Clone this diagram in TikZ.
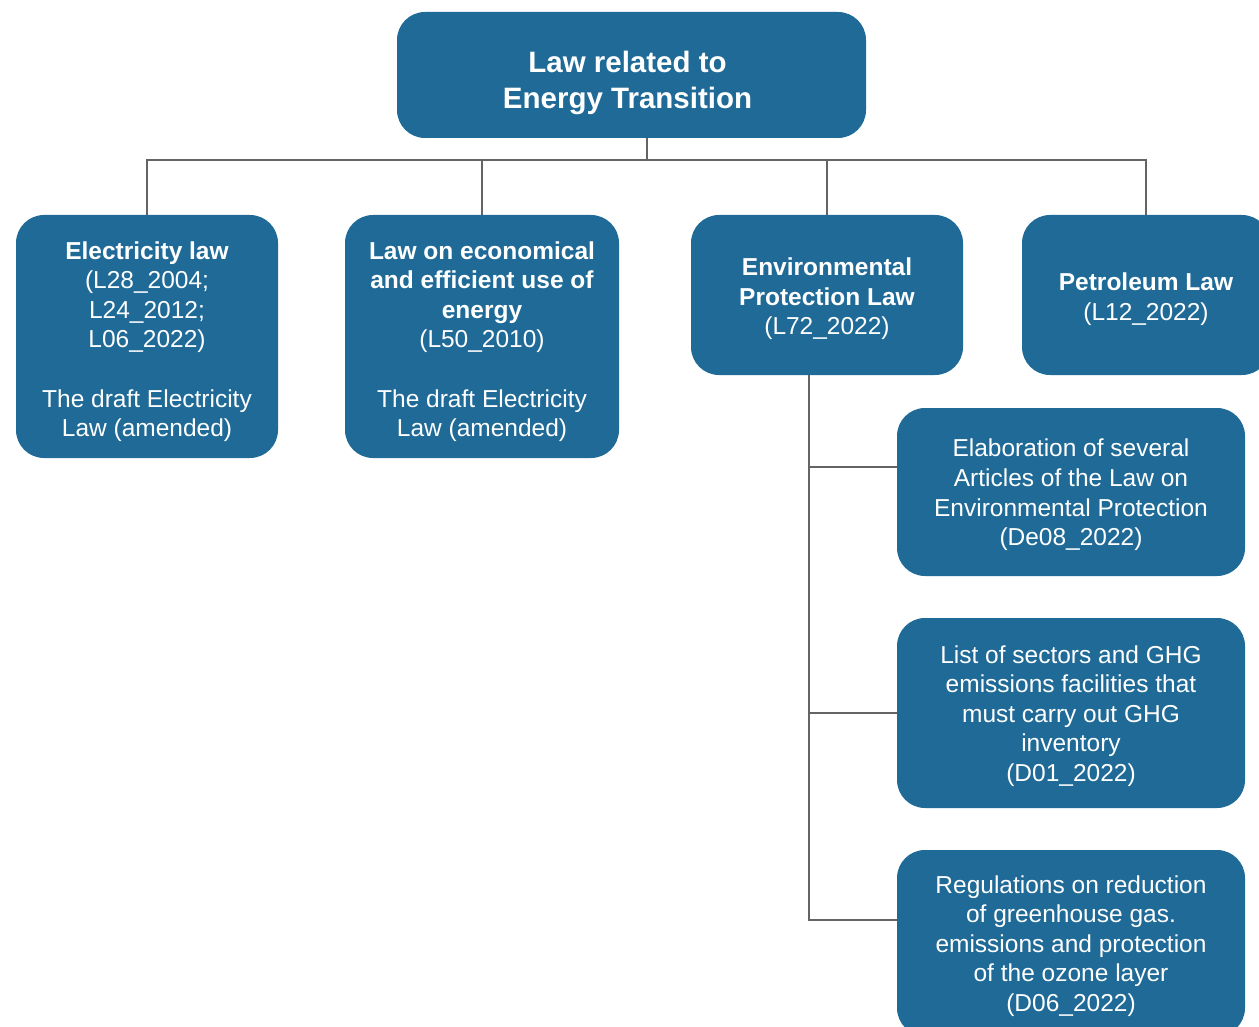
\documentclass[tikz,border=0pt]{standalone}
\usepackage{fontspec}
\setmainfont{Liberation Sans}
\definecolor{lawblue}{RGB}{31,106,150}
\definecolor{linkgray}{RGB}{100,100,100}
\begin{document}
\begin{tikzpicture}[x=1pt,y=-1pt,
  lawbox/.style={fill=lawblue, draw=none, rounded corners=28pt,
    inner sep=0pt, anchor=center},
  boxtext/.style={text=white, align=center, inner sep=0pt, anchor=center,
    font=\fontsize{24.5}{29.6}\selectfont},
  roottext/.style={boxtext, font=\bfseries\fontsize{29.5}{35.5}\selectfont},
  link/.style={draw=linkgray, line width=1.1pt}]
\useasboundingbox (0,0) rectangle (1259,1027);
\clip (0,0) rectangle (1259,1027);

% top level
\node[lawbox, minimum width=469pt, minimum height=126pt] (root) at (631.5,75) {};
\node[roottext] (roott) at ([xshift=-4pt,yshift=-8pt]root.center)
  {Law related to\\Energy Transition};

% laws
\node[lawbox, minimum width=262pt, minimum height=243pt] (elec) at (147,336.5) {};
\node[boxtext] (elect) at ([yshift=-5pt]elec.center)
  {\textbf{Electricity law}\\(L28\_2004;\\L24\_2012;\\L06\_2022)\\[29.6pt]The draft Electricity\\Law (amended)};
\node[lawbox, minimum width=274pt, minimum height=243pt] (econ) at (482,336.5) {};
\node[boxtext] (econt) at ([yshift=-5pt]econ.center)
  {\textbf{Law on economical}\\\textbf{and efficient use of}\\\textbf{energy}\\(L50\_2010)\\[29.6pt]The draft Electricity\\Law (amended)};
\node[lawbox, minimum width=272pt, minimum height=160pt] (env) at (827,295) {};
\node[boxtext] (envt) at ([yshift=-4pt]env.center)
  {\textbf{Environmental}\\\textbf{Protection Law}\\(L72\_2022)};
\node[lawbox, minimum width=248pt, minimum height=160pt] (pet) at (1146,295) {};
\node[boxtext] (pett) at ([yshift=-4pt]pet.center)
  {\textbf{Petroleum Law}\\(L12\_2022)};

% decrees under the environmental protection law
\node[lawbox, minimum width=348pt, minimum height=168pt] (dec1) at (1071,492) {};
\node[boxtext] (dec1t) at ([yshift=-3pt]dec1.center)
  {Elaboration of several\\Articles of the Law on\\Environmental Protection\\(De08\_2022)};
\node[lawbox, minimum width=348pt, minimum height=190pt] (dec2) at (1071,713) {};
\node[boxtext] (dec2t) at ([yshift=-3pt]dec2.center)
  {List of sectors and GHG\\emissions facilities that\\must carry out GHG\\inventory\\(D01\_2022)};
\node[lawbox, minimum width=348pt, minimum height=186pt] (dec3) at (1071,943) {};
\node[boxtext] (dec3t) at ([yshift=-3pt]dec3.center)
  {Regulations on reduction\\of greenhouse gas.\\emissions and protection\\of the ozone layer\\(D06\_2022)};

% connectors
\coordinate (rootdrop) at (647,138);
\coordinate (bus) at (647,160);
\coordinate (trunk) at (809,375);
\coordinate (b1) at ([yshift=25pt]dec1.west);
\coordinate (b3) at ([yshift=23pt]dec3.west);

\draw[link] (rootdrop) -- (bus);
\draw[link] (elec.north) -- (elec.north |- bus) -- (pet.north |- bus) -- (pet.north);
\draw[link] (econ.north) -- (econ.north |- bus);
\draw[link] (env.north) -- (env.north |- bus);
\draw[link] (trunk) |- (b3);
\draw[link] (trunk |- b1) -- (b1);
\draw[link] (trunk |- dec2.west) -- (dec2.west);
\end{tikzpicture}
\end{document}
